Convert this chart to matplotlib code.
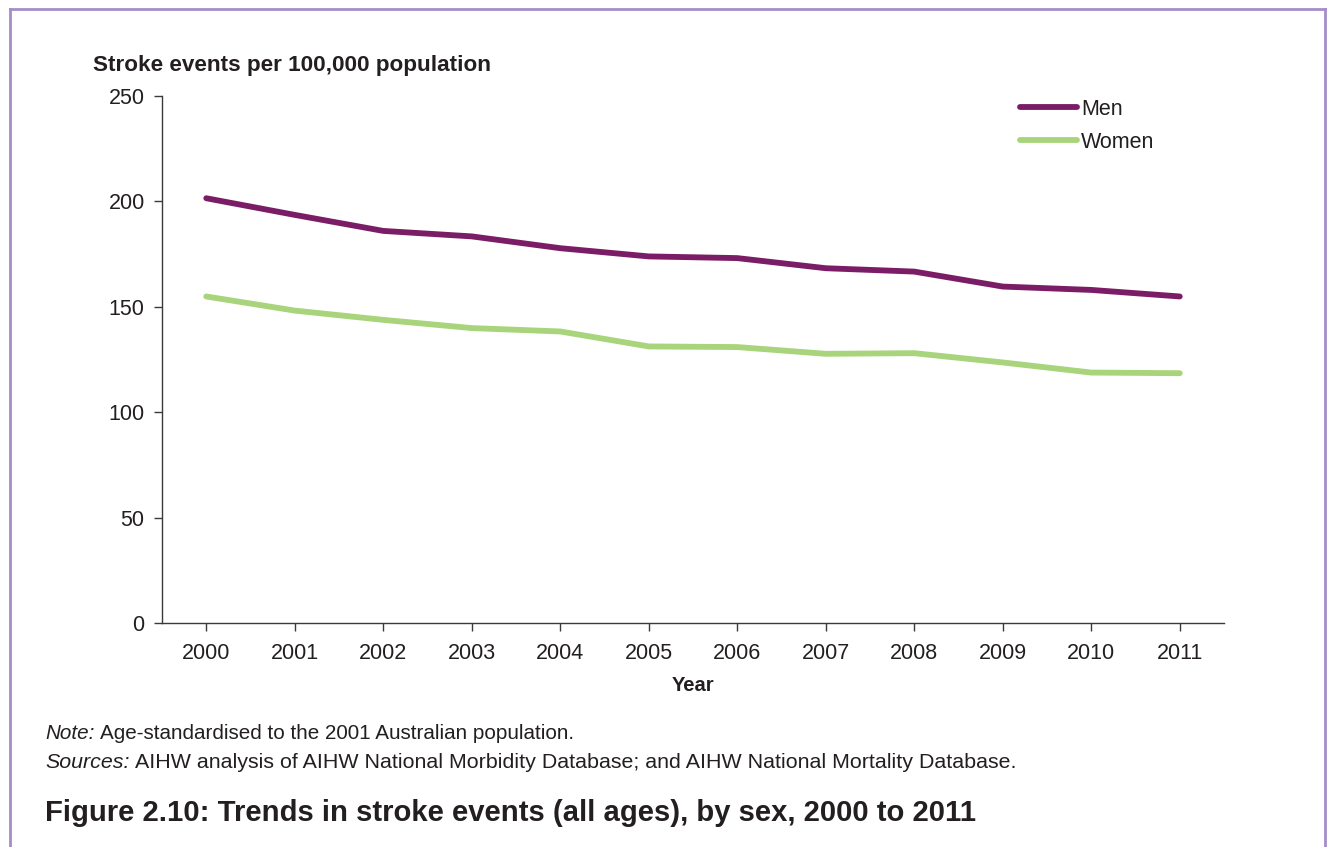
import matplotlib
matplotlib.use("Agg")
import matplotlib.pyplot as plt
from matplotlib.lines import Line2D

years = ["2000", "2001", "2002", "2003", "2004", "2005", "2006", "2007", "2008", "2009", "2010", "2011"]
men = [201.5, 193.6, 186.0, 183.4, 177.8, 173.9, 173.1, 168.3, 166.7, 159.6, 158.0, 154.9]
women = [154.9, 148.2, 143.8, 139.9, 138.3, 131.2, 130.9, 127.7, 128.0, 123.6, 118.8, 118.5]
yticks = [0, 50, 100, 150, 200, 250]

MEN_C = "#7a1d66"
WOMEN_C = "#a8d47c"
BORDER_C = "#a48dc9"
TXT = "#231f20"

plt.rcParams['font.family'] = ['Liberation Sans', 'DejaVu Sans']
W, H = 1327, 847
fig = plt.figure(figsize=(W / 100, H / 100), dpi=100)
renderer = fig.canvas.get_renderer()


def fx(px):
    return px / W


def fy(py):
    return 1 - py / H


def fit(t, target_w):
    bb = t.get_window_extent(renderer=renderer)
    t.set_fontsize(t.get_fontsize() * target_w / bb.width)
    return t


def note_line(x0, y0, lead, rest, total_w, fs=13.0):
    a = fig.text(fx(x0), fy(y0), lead, fontsize=fs, style='italic', color=TXT, ha='left', va='center')
    b = fig.text(fx(x0), fy(y0), rest, fontsize=fs, color=TXT, ha='left', va='center')
    sp = fig.text(0, 0, "a a", fontsize=fs)
    one = fig.text(0, 0, "a", fontsize=fs)
    spw = sp.get_window_extent(renderer=renderer).width - 2 * one.get_window_extent(renderer=renderer).width
    sp.remove()
    one.remove()
    wa = a.get_window_extent(renderer=renderer).width
    wb = b.get_window_extent(renderer=renderer).width
    scale = total_w / (wa + spw + wb)
    nfs = fs * scale
    for tt in (a, b):
        tt.set_fontsize(nfs)
    b.set_x(fx(x0 + (wa + spw) * scale))


ax = fig.add_axes([fx(162), fy(623), fx(1224) - fx(162), fy(96) - fy(623)])
x = list(range(len(years)))
ax.plot(x, men, color=MEN_C, lw=4.2, solid_capstyle='round', solid_joinstyle='round')
ax.plot(x, women, color=WOMEN_C, lw=4.2, solid_capstyle='round', solid_joinstyle='round')
ax.set_xlim(-0.5, len(years) - 0.5)
ax.set_ylim(0, 250)
ax.set_xticks(x)
ax.set_xticklabels(years)
ax.set_yticks(yticks)
ax.set_yticklabels([str(v) for v in yticks])
for s in ['top', 'right']:
    ax.spines[s].set_visible(False)
for s in ['left', 'bottom']:
    ax.spines[s].set_color('#3a3a3a')
    ax.spines[s].set_linewidth(1.0)
ax.tick_params(axis='both', colors='#3a3a3a', labelcolor=TXT, labelsize=15.5, length=5.5, width=1.0)
ax.tick_params(axis='x', pad=9)
ax.tick_params(axis='y', pad=7)

t = fig.text(fx(93), fy(65), "Stroke events per 100,000 population", fontsize=13.5, fontweight='bold',
             color=TXT, ha='left', va='center')
fit(t, 396)
fig.text(fx(693), fy(685), "Year", fontsize=14.5, fontweight='bold', color=TXT, ha='center', va='center')

# legend
handles = [Line2D([], [], color=MEN_C, lw=4.2, solid_capstyle='round'),
           Line2D([], [], color=WOMEN_C, lw=4.2, solid_capstyle='round')]
leg = fig.legend(handles, ["Men", "Women"], loc='upper left', bbox_to_anchor=(fx(1020), fy(99)),
                 frameon=False, fontsize=15.5, handlelength=2.65, handletextpad=0.2, labelspacing=0.55,
                 borderaxespad=0, borderpad=0)
for tt in leg.get_texts():
    tt.set_color(TXT)

note_line(45, 733, "Note:", "Age-standardised to the 2001 Australian population.", 529)
note_line(45, 762, "Sources:", "AIHW analysis of AIHW National Morbidity Database; and AIHW National Mortality Database.", 968)

t = fig.text(fx(45), fy(813), "Figure 2.10: Trends in stroke events (all ages), by sex, 2000 to 2011",
             fontsize=18, fontweight='bold', color=TXT, ha='left', va='center')
fit(t, 930)

# frame (open at the bottom)
for xs, ys in [((10, 10), (847, 9)), ((10, 1325), (9, 9)), ((1325, 1325), (9, 847))]:
    fig.add_artist(Line2D([fx(v) for v in xs], [fy(v) for v in ys], color=BORDER_C, lw=2.0,
                          transform=fig.transFigure))

fig.savefig("out.png", dpi=100, facecolor='white')
